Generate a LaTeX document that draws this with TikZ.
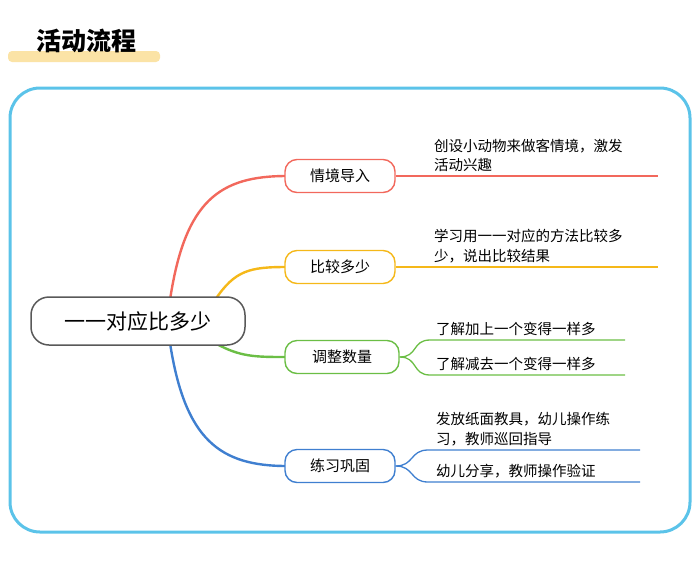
\documentclass[tikz,border=0pt]{standalone}
\usepackage{fontspec}
\setmainfont{Noto Sans CJK SC}
\usetikzlibrary{positioning}
\definecolor{frameblue}{HTML}{5BC3E9}
\definecolor{brred}{HTML}{F2685C}
\definecolor{bryellow}{HTML}{F5B819}
\definecolor{brgreen}{HTML}{6BBE45}
\definecolor{brblue}{HTML}{3F7FD0}
\definecolor{hiyellow}{HTML}{FBE3A6}
\tikzset{
  topic/.style={draw=#1, line width=1.4pt, rounded corners=12pt, minimum width=110pt, minimum height=33pt, font=\fontsize{15}{17}\selectfont, fill=white},
  note/.style={anchor=south west, align=left, inner sep=2pt, font=\fontsize{14.5}{19.5}\selectfont},
  branch/.style={line width=2.4pt, color=#1},
  twig/.style={line width=1.3pt, color=#1}
}
\begin{document}
\begin{tikzpicture}[x=1pt,y=-1pt]
  \useasboundingbox (0,0) rectangle (700,563);
  % title
  \fill[hiyellow, rounded corners=4pt] (8,51) rectangle (160,62);
  \node[font=\fontsize{25}{27}\bfseries\selectfont] (title) at (86,41) {活动流程};
  % frame
  \draw[frameblue, line width=3pt, rounded corners=30pt] (10,88) rectangle (690,532);
  % branches
  \draw[branch=brred] (170,300) .. controls (185,200) and (220,176) .. (287,176);
  \draw[branch=bryellow] (215,300) .. controls (235,270) and (250,267) .. (287,267);
  \draw[branch=brgreen] (215,343) .. controls (240,357) and (255,357) .. (287,357);
  \draw[branch=brblue] (170,343) .. controls (185,440) and (220,466) .. (287,466);
  % root
  \node[draw=gray!70!black, line width=1.5pt, rounded corners=18pt, minimum width=214pt, minimum height=48pt, fill=white, font=\fontsize{21}{23}\selectfont] (root) at (138,321) {一一对应比多少};
  % topics
  \node[topic=brred] (t1) at (340,176) {情境导入};
  \node[topic=bryellow] (t2) at (340,267) {比较多少};
  \node[topic=brgreen, minimum width=114pt] (t3) at (342,357) {调整数量};
  \node[topic=brblue] (t4) at (340,466) {练习巩固};
  % details
  \draw[twig=brred] (t1.east) -- (658,176);
  \node[note] (n1) at (432,174) {创设小动物来做客情境，激发\\活动兴趣};
  \draw[twig=bryellow] (t2.east) -- (658,267);
  \node[note] (n2) at (432,265) {学习用一一对应的方法比较多\\少，说出比较结果};
  \coordinate (g1) at (430,340);
  \coordinate (g2) at (430,375);
  \draw[twig=brgreen] (t3.east) .. controls (418,357) and (412,340) .. (g1) -- (625,340);
  \draw[twig=brgreen] (t3.east) .. controls (418,357) and (412,375) .. (g2) -- (625,375);
  \node[note] (n3) at (434,338) {了解加上一个变得一样多};
  \node[note] (n4) at (434,373) {了解减去一个变得一样多};
  \coordinate (b1) at (428,450);
  \coordinate (b2) at (428,482);
  \draw[twig=brblue] (t4.east) .. controls (414,466) and (410,450) .. (b1) -- (640,450);
  \draw[twig=brblue] (t4.east) .. controls (414,466) and (410,482) .. (b2) -- (640,482);
  \node[note] (n5) at (434,448) {发放纸面教具，幼儿操作练\\习，教师巡回指导};
  \node[note] (n6) at (434,480) {幼儿分享，教师操作验证};
\end{tikzpicture}
\end{document}
